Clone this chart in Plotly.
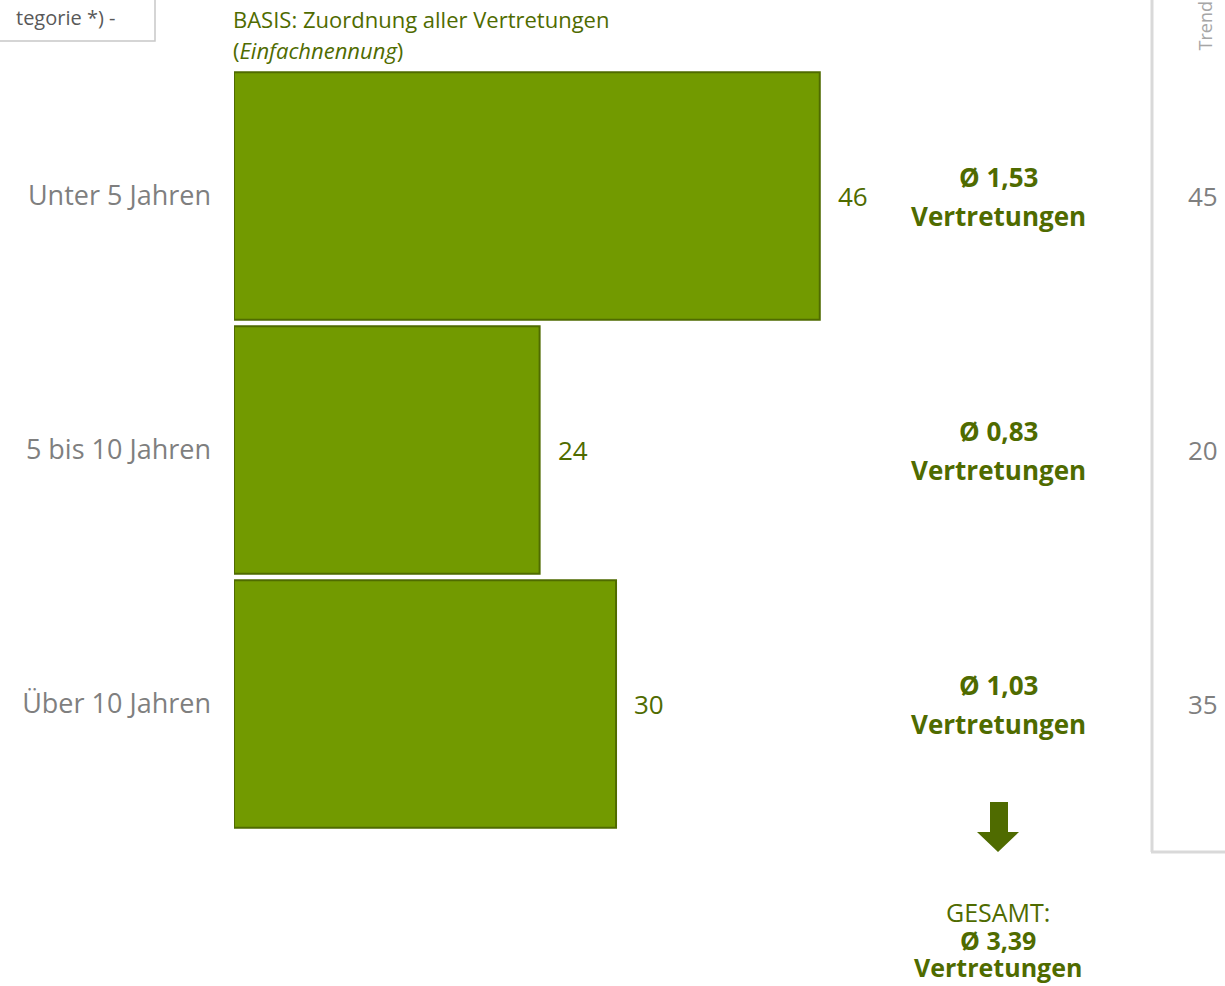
import plotly.graph_objects as go

# data
categories = ["Unter 5 Jahren", "5 bis 10 Jahren", "Über 10 Jahren"]
values = [46, 24, 30]
averages = ["Ø 1,53", "Ø 0,83", "Ø 1,03"]
trend = [45, 20, 35]
total = "Ø 3,39"

W, H = 1225, 986
GREEN = "#729a00"
DARK = "#4f6b00"
GRAY = "#7f7f7f"
FONT = "Open Sans"


def px_x(p):
    return p / W


def px_y(p):
    return 1 - p / H


def note(x, y, text, size=26, color=DARK, **kw):
    # annotation placed in page pixels
    opts = dict(xanchor="center", yanchor="middle")
    opts.update(kw)
    fig.add_annotation(x=px_x(x), xref="paper", y=px_y(y), yref="paper",
                       text=text, showarrow=False,
                       font=dict(family=FONT, size=size, color=color), **opts)


fig = go.Figure()
fig.add_trace(go.Bar(
    x=values,
    y=categories,
    orientation="h",
    width=0.975,
    marker=dict(color=GREEN, line=dict(color=DARK, width=2)),
    hoverinfo="skip",
))

# value labels next to the bars
for cat, v in zip(categories, values):
    fig.add_annotation(x=v, y=cat, text=str(v), showarrow=False,
                       xanchor="left", yanchor="middle", xshift=16,
                       font=dict(family=FONT, size=26, color=DARK))

# averages column
for cat, a in zip(categories, averages):
    for txt, dy in [(f"<b>{a}</b>", 19), ("<b>Vertretungen</b>", -20)]:
        fig.add_annotation(x=px_x(998), xref="paper", y=cat, yref="y",
                           text=txt, showarrow=False, yshift=dy,
                           xanchor="center", yanchor="middle",
                           font=dict(family=FONT, size=26, color=DARK))

# trend column
for cat, t in zip(categories, trend):
    fig.add_annotation(x=px_x(1203), xref="paper", y=cat, yref="y",
                       text=str(t), showarrow=False,
                       xanchor="center", yanchor="middle",
                       font=dict(family=FONT, size=26, color=GRAY))

# totals
note(998, 912, "GESAMT:", size=25)
note(998, 940, f"<b>{total}</b>", size=25)
note(998, 967, "<b>Vertretungen</b>", size=25)

# arrow
ax = [990, 1008, 1008, 1019, 998, 977, 990]
ay = [802, 802, 832, 832, 852, 832, 832]
path = "M " + " L ".join(f"{px_x(a)},{px_y(b)}" for a, b in zip(ax, ay)) + " Z"
fig.add_shape(type="path", path=path, xref="paper", yref="paper",
              fillcolor=DARK, line=dict(width=0))

# basis text
note(231, 19, "BASIS: Zuordnung aller Vertretungen", size=22, xanchor="left")
note(231, 50, "(<i>Einfachnennung</i>)", size=22, xanchor="left")

# cut-off box at top left
fig.add_shape(type="rect", xref="paper", yref="paper",
              x0=px_x(-10), x1=px_x(155), y0=px_y(41), y1=px_y(-10),
              line=dict(color="#c8c8c8", width=1.5), fillcolor="white")
note(117, 17, "tegorie *) -", size=20, color="#595959", xanchor="right")

# trend panel frame
fig.add_shape(type="line", xref="paper", yref="paper",
              x0=px_x(1152), x1=px_x(1152), y0=px_y(-5), y1=px_y(852),
              line=dict(color="#d9d9d9", width=3))
fig.add_shape(type="line", xref="paper", yref="paper",
              x0=px_x(1151), x1=px_x(1230), y0=px_y(852), y1=px_y(852),
              line=dict(color="#d9d9d9", width=3))
note(1205, 53, "Trend", size=18, color="#a6a6a6", textangle=-90,
     yanchor="bottom")

fig.update_layout(
    width=W, height=H,
    margin=dict(l=0, r=0, t=0, b=0),
    plot_bgcolor="white", paper_bgcolor="white",
    showlegend=False,
    xaxis=dict(domain=[px_x(234), px_x(900)], range=[0, 52.3],
               visible=False),
    yaxis=dict(domain=[px_y(831), px_y(69)], range=[2.5, -0.5],
               categoryorder="array", categoryarray=categories,
               showgrid=False, zeroline=False, showline=False,
               ticks="", ticklabelstandoff=22,
               tickfont=dict(family=FONT, size=27, color=GRAY)),
)

fig.write_html("out.html", config={"displayModeBar": False},
               post_script="document.body.style.margin='0';document.body.style.overflow='hidden';")
